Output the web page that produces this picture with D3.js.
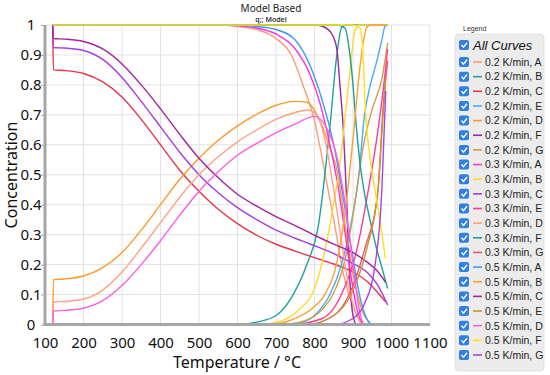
<!DOCTYPE html>
<html>
<head>
<meta charset="utf-8">
<script src="https://cdn.jsdelivr.net/npm/d3@7"></script>
<style>
    body { margin: 0; background: #fff; }
    svg { display: block; font-family: "Noto Sans", sans-serif; }
</style>
</head>
<body>
<svg id="chart" width="550" height="375"></svg>
<script>

// Concentration curves, [temperature, concentration]
var k02A = [[120,1],[550,1],[600,0.995],[650,0.985],[700,0.955],[740,0.9],[770,0.8],[800,0.68],[825,0.52],[850,0.35],[875,0.17],[900,0.06],[920,0.01],[940,0],[990,0]];
var k02B = [[120,0],[600,0],[650,0.008],[700,0.03],[740,0.09],[780,0.2],[810,0.33],[840,0.66],[858,0.9],[870,0.99],[880,1],[990,1]];
var k02C = [[120,1],[122,0.85],[150,0.848],[200,0.838],[250,0.81],[300,0.76],[350,0.685],[400,0.6],[450,0.515],[500,0.445],[550,0.385],[600,0.337],[650,0.298],[700,0.268],[750,0.245],[800,0.223],[850,0.202],[900,0.175],[940,0.14],[965,0.105],[985,0.075]];
var k02E = [[120,0],[700,0],[760,0.005],[800,0.03],[840,0.1],[870,0.2],[900,0.37],[915,0.5],[930,0.7],[945,0.8],[960,0.87],[975,0.95],[983,0.995],[990,1]];
var k02D = [[120,0],[122,0.15],[150,0.152],[200,0.162],[250,0.19],[300,0.24],[350,0.315],[400,0.4],[450,0.485],[500,0.555],[550,0.615],[600,0.663],[650,0.702],[700,0.732],[750,0.745],[780,0.742],[814,0.68],[840,0.59],[861,0.5],[880,0.33],[900,0.17],[920,0.06],[940,0.01],[955,0],[990,0]];
var k02F = [[120,1],[800,1],[822,0.995],[845,0.97],[858,0.92],[866,0.8],[874,0.67],[884,0.4],[893,0.12],[900,0.03],[910,0],[990,0]];
var k02G = [[120,0],[720,0],[780,0.015],[820,0.05],[848,0.1],[880,0.22],[910,0.45],[926,0.59],[950,0.72],[975,0.82],[990,0.94]];

var k03A = [[120,1],[550,1],[600,0.998],[650,0.99],[700,0.97],[750,0.92],[790,0.83],[814,0.74],[840,0.6],[860,0.47],[880,0.3],[900,0.12],[915,0.03],[930,0],[990,0]];
var k03B = [[120,0],[660,0],[710,0.01],[760,0.05],[800,0.12],[840,0.33],[870,0.58],[890,0.82],[905,0.98],[915,1],[990,1]];
var k03C = [[120,1],[122,0.925],[150,0.923],[200,0.915],[250,0.885],[300,0.825],[350,0.745],[400,0.66],[450,0.575],[500,0.5],[550,0.44],[600,0.39],[650,0.35],[700,0.315],[750,0.288],[790,0.268],[850,0.237],[890,0.21],[940,0.17],[965,0.13],[990,0.065]];
var k03E = [[120,0],[740,0],[820,0.02],[870,0.1],[910,0.25],[940,0.45],[965,0.65],[980,0.8],[990,0.92]];
var k03D = [[120,0],[122,0.075],[150,0.077],[200,0.085],[250,0.115],[300,0.175],[350,0.255],[400,0.34],[450,0.425],[500,0.5],[550,0.56],[600,0.61],[650,0.65],[700,0.685],[750,0.708],[783,0.716],[810,0.69],[830,0.6],[850,0.45],[870,0.28],[890,0.12],[910,0.03],[925,0],[990,0]];
var k03F = [[120,1],[860,1],[879,0.99],[892,0.9],[900,0.8],[908,0.67],[920,0.52],[931,0.43],[944,0.35],[960,0.26],[975,0.19],[990,0.12]];
var k03G = [[120,0],[780,0],[850,0.03],[890,0.1],[930,0.25],[965,0.45],[978,0.72],[990,0.88]];

var k05A = [[120,1],[600,1],[650,0.995],[700,0.985],[750,0.95],[790,0.86],[822,0.74],[850,0.6],[884,0.35],[900,0.22],[920,0.08],[940,0.01],[950,0],[990,0]];
var k05B = [[120,0],[680,0],[740,0.015],[800,0.06],[827,0.1],[860,0.22],[880,0.38],[900,0.62],[920,0.88],[935,0.99],[945,1],[990,1]];
var k05C = [[120,1],[122,0.955],[150,0.953],[200,0.945],[250,0.92],[300,0.87],[350,0.8],[400,0.72],[450,0.635],[500,0.555],[550,0.49],[600,0.435],[650,0.395],[700,0.36],[750,0.33],[800,0.298],[850,0.268],[900,0.24],[940,0.205],[962,0.18],[985,0.14]];
var k05E = [[120,0],[780,0],[850,0.03],[895,0.1],[935,0.25],[965,0.45],[975,0.64],[985,0.83]];
var k05D = [[120,0],[122,0.045],[150,0.047],[200,0.055],[250,0.08],[300,0.13],[350,0.2],[400,0.28],[450,0.365],[500,0.445],[550,0.51],[600,0.565],[650,0.605],[700,0.64],[750,0.67],[800,0.695],[830,0.66],[860,0.55],[880,0.4],[900,0.2],[915,0.06],[930,0],[990,0]];
var k05F = [[120,1],[900,1],[918,0.99],[926,0.9],[932,0.72],[940,0.6],[957,0.45],[970,0.35],[984,0.22]];
var k05G = [[120,0],[850,0],[900,0.02],[930,0.07],[955,0.18],[975,0.45],[985,0.78]];

// Legend order
var seriesNames = [
    '0.2 K/min, A', '0.2 K/min, B', '0.2 K/min, C', '0.2 K/min, E', '0.2 K/min, D', '0.2 K/min, F', '0.2 K/min, G',
    '0.3 K/min, A', '0.3 K/min, B', '0.3 K/min, C', '0.3 K/min, E', '0.3 K/min, D', '0.3 K/min, F', '0.3 K/min, G',
    '0.5 K/min, A', '0.5 K/min, B', '0.5 K/min, C', '0.5 K/min, E', '0.5 K/min, D', '0.5 K/min, F', '0.5 K/min, G'
];
var seriesData = [
    k02A, k02B, k02C, k02E, k02D, k02F, k02G,
    k03A, k03B, k03C, k03E, k03D, k03F, k03G,
    k05A, k05B, k05C, k05E, k05D, k05F, k05G
];
var seriesColors = [
    '#ff9a78', '#1fa39b', '#e8344c', '#4ea8ff', '#ff9a2a', '#9b2a9e', '#c9a04c',
    '#ff2ee4', '#ffd92a', '#a63ce6', '#ff3a98', '#ffa282', '#1f9f96', '#f0526f',
    '#3a9aff', '#ffa030', '#a3259f', '#c8962e', '#ff5ce6', '#ffe01a', '#a843e8'
];

var xTicks = [100, 200, 300, 400, 500, 600, 700, 800, 900, 1000, 1100];
var yTicks = [0, 0.1, 0.2, 0.3, 0.4, 0.5, 0.6, 0.7, 0.8, 0.9, 1];


var svg = d3.select('#chart');

var x = d3.scaleLinear().domain([100, 1100]).range([45, 430]);
var y = d3.scaleLinear().domain([0, 1]).range([324.5, 25]);

// grid
var grid = svg.append('g');
grid.selectAll('line.v').data(xTicks.slice(1)).enter().append('line')
    .attr('x1', function(d){ return x(d); }).attr('x2', function(d){ return x(d); })
    .attr('y1', y(1)).attr('y2', y(0))
    .attr('stroke', '#e2e2e2').attr('stroke-width', 1);
grid.selectAll('line.h').data(yTicks.slice(1)).enter().append('line')
    .attr('x1', x(100)).attr('x2', x(1100))
    .attr('y1', function(d){ return y(d); }).attr('y2', function(d){ return y(d); })
    .attr('stroke', '#e2e2e2').attr('stroke-width', 1);

// axes (labels only, the thick lines are drawn below)
var xAxis = d3.axisBottom(x).tickValues(xTicks).tickSize(0).tickPadding(11).tickFormat(d3.format('d'));
var yAxis = d3.axisLeft(y).tickValues(yTicks).tickSize(4).tickPadding(3).tickFormat(function(d){ return d3.format('')(+d.toFixed(1)); });

var gx = svg.append('g').attr('transform', 'translate(0,' + y(0) + ')').call(xAxis);
var gy = svg.append('g').attr('transform', 'translate(' + x(100) + ',0)').call(yAxis);
[gx, gy].forEach(function(g){
    g.select('.domain').remove();
    g.selectAll('text').attr('font-family', '"Noto Sans", sans-serif').attr('font-size', 15).attr('fill', '#111');
    g.selectAll('line').attr('stroke', '#aaa');
});
// y labels sit centred in the margin
gy.selectAll('text').attr('text-anchor', 'middle').attr('x', -14);
gx.selectAll('text').attr('dy', '0.8em');

// curves
var line = d3.line()
    .x(function(d){ return x(d[0]); })
    .y(function(d){ return y(d[1]); })
    .curve(d3.curveMonotoneX);

svg.append('g').selectAll('path').data(seriesData).enter().append('path')
    .attr('d', line)
    .attr('fill', 'none')
    .attr('stroke', function(d, i){ return seriesColors[i]; })
    .attr('stroke-width', 1.4);

// thick axis lines
svg.append('line').attr('x1', x(100)).attr('x2', x(100)).attr('y1', y(1)).attr('y2', y(0) + 1.5)
    .attr('stroke', '#a6a6a6').attr('stroke-width', 3);
svg.append('line').attr('x1', x(100) - 1.5).attr('x2', x(1100)).attr('y1', y(0)).attr('y2', y(0))
    .attr('stroke', '#a6a6a6').attr('stroke-width', 3);

// titles
svg.append('text').attr('x', 271).attr('y', 12).attr('text-anchor', 'middle')
    .attr('font-size', 10).attr('fill', '#222').text('Model Based');
svg.append('text').attr('x', 271).attr('y', 21.5).attr('text-anchor', 'middle')
    .attr('font-size', 7).attr('font-weight', 600).attr('fill', '#333').text('q;; Model');

svg.append('text').attr('x', 237).attr('y', 368).attr('text-anchor', 'middle')
    .attr('font-size', 16).attr('fill', '#111').text('Temperature / °C');
svg.append('text').attr('transform', 'translate(17,175) rotate(-90)').attr('text-anchor', 'middle')
    .attr('font-size', 16).attr('fill', '#111').text('Concentration');

// legend
var lg = svg.append('g').attr('font-family', '"Liberation Sans", Arial, sans-serif');
lg.append('text').attr('x', 463).attr('y', 31).attr('font-size', 7).attr('fill', '#333').text('Legend');
lg.append('rect').attr('x', 455).attr('y', 34).attr('width', 89).attr('height', 337).attr('rx', 4)
    .attr('fill', '#ececec').attr('stroke', '#e0e0e0');

function checkbox(g, cy) {
    g.append('rect').attr('x', 459).attr('y', cy - 5).attr('width', 10).attr('height', 10).attr('rx', 2)
        .attr('fill', '#2f7fe6');
    g.append('path').attr('d', 'M461.5,' + cy + ' l2,2.2 l3.5,-4.4')
        .attr('fill', 'none').attr('stroke', '#fff').attr('stroke-width', 1.4);
}

checkbox(lg, 45);
lg.append('text').attr('x', 473).attr('y', 49.5).attr('font-size', 13).attr('font-style', 'italic')
    .attr('fill', '#111').text('All Curves');

var rowY = d3.scaleLinear().domain([0, seriesNames.length - 1]).range([62, 355]);
seriesNames.forEach(function(name, i){
    var cy = rowY(i);
    checkbox(lg, cy);
    lg.append('line').attr('x1', 473).attr('x2', 482).attr('y1', cy).attr('y2', cy)
        .attr('stroke', seriesColors[i]).attr('stroke-width', 1.6);
    lg.append('text').attr('x', 485).attr('y', cy + 3.8).attr('font-size', 10.5)
        .attr('fill', '#222').text(name);
});

</script>
</body>
</html>
